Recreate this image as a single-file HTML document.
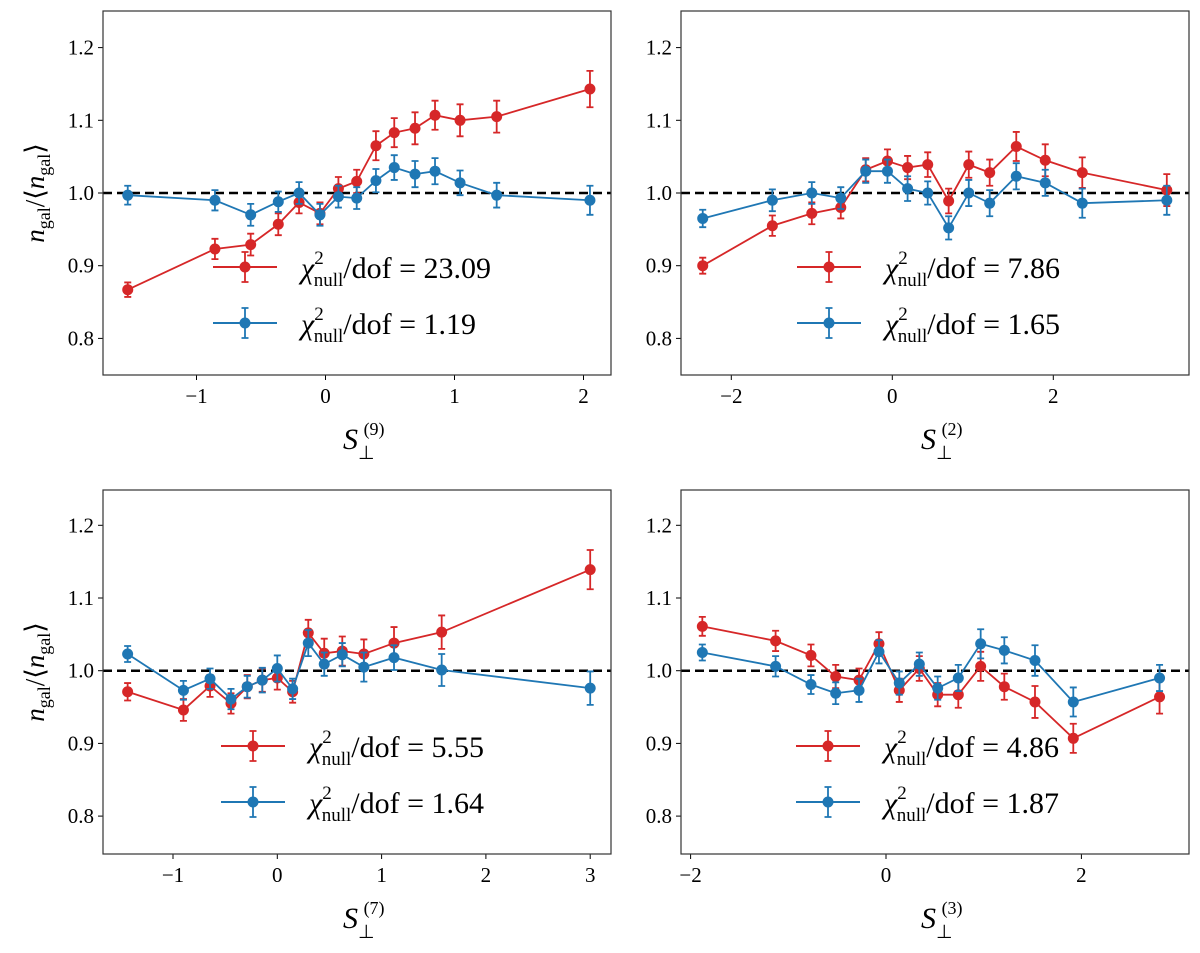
<!DOCTYPE html>
<html><head><meta charset="utf-8"><style>
html,body{margin:0;padding:0;background:#fff;}
svg{display:block;font-family:"Liberation Serif",serif;}
</style></head><body>
<svg id="fig" width="1200" height="953" viewBox="0 0 1200 953" xmlns="http://www.w3.org/2000/svg"></svg>
<script>
// Panel 1 (S9)
const p1X=[-1.533,-0.857,-0.58,-0.366,-0.205,-0.043,0.1,0.242,0.391,0.533,0.694,0.849,1.043,1.327,2.05];
const p1Red=[0.867,0.923,0.929,0.957,0.987,0.972,1.006,1.016,1.065,1.083,1.089,1.107,1.100,1.105,1.143];
const p1RedErr=[0.010,0.014,0.015,0.015,0.015,0.015,0.016,0.016,0.020,0.020,0.022,0.020,0.022,0.022,0.025];
const p1Blue=[0.997,0.990,0.970,0.988,1.000,0.970,0.995,0.993,1.017,1.035,1.026,1.030,1.014,0.997,0.990];
const p1BlueErr=[0.013,0.014,0.015,0.014,0.015,0.015,0.015,0.015,0.016,0.017,0.018,0.018,0.017,0.017,0.020];
const p1XTicks=[-1,0,1,2];
const p1Labels=["23.09","1.19"];
// Panel 2 (S2)
const p2X=[-2.355,-1.49,-1.0,-0.64,-0.33,-0.06,0.19,0.44,0.7,0.95,1.21,1.54,1.9,2.36,3.41];
const p2Red=[0.900,0.955,0.972,0.980,1.032,1.044,1.035,1.039,0.989,1.039,1.028,1.064,1.045,1.028,1.004];
const p2RedErr=[0.011,0.014,0.015,0.015,0.016,0.016,0.016,0.017,0.017,0.018,0.018,0.020,0.022,0.021,0.022];
const p2Blue=[0.965,0.990,1.000,0.993,1.030,1.030,1.006,1.000,0.952,1.000,0.986,1.023,1.014,0.986,0.990];
const p2BlueErr=[0.012,0.015,0.015,0.015,0.016,0.016,0.017,0.016,0.016,0.018,0.018,0.018,0.018,0.020,0.020];
const p2XTicks=[-2,0,2];
const p2Labels=["7.86","1.65"];
// Panel 3 (S7)
const p3X=[-1.435,-0.9,-0.645,-0.444,-0.288,-0.144,0.0,0.147,0.297,0.45,0.623,0.83,1.119,1.576,3.0];
const p3Red=[0.971,0.946,0.979,0.955,0.978,0.987,0.990,0.971,1.052,1.024,1.027,1.023,1.038,1.053,1.139];
const p3RedErr=[0.012,0.015,0.015,0.014,0.016,0.016,0.016,0.015,0.018,0.020,0.020,0.020,0.022,0.023,0.027];
const p3Blue=[1.023,0.973,0.989,0.961,0.978,0.987,1.003,0.975,1.038,1.009,1.022,1.005,1.018,1.001,0.976];
const p3BlueErr=[0.011,0.013,0.014,0.014,0.015,0.017,0.018,0.014,0.018,0.016,0.016,0.020,0.017,0.022,0.023];
const p3XTicks=[-1,0,1,2,3];
const p3Labels=["5.55","1.64"];
// Panel 4 (S3)
const p4X=[-1.88,-1.13,-0.768,-0.515,-0.276,-0.072,0.136,0.341,0.529,0.74,0.969,1.211,1.525,1.917,2.8];
const p4Red=[1.061,1.041,1.021,0.992,0.987,1.037,0.973,1.003,0.967,0.967,1.006,0.978,0.957,0.907,0.964];
const p4RedErr=[0.013,0.014,0.015,0.016,0.016,0.016,0.016,0.017,0.016,0.018,0.020,0.018,0.022,0.020,0.023];
const p4Blue=[1.025,1.006,0.981,0.969,0.973,1.026,0.983,1.009,0.976,0.990,1.037,1.028,1.014,0.957,0.990];
const p4BlueErr=[0.011,0.014,0.013,0.015,0.016,0.016,0.016,0.016,0.016,0.018,0.020,0.018,0.021,0.020,0.018];
const p4XTicks=[-2,0,2];
const p4Labels=["4.86","1.87"];
const yTicks=[0.8,0.9,1.0,1.1,1.2];

const NS="http://www.w3.org/2000/svg";
const svg=document.getElementById('fig');
function mk(tag,attrs,parent){const e=document.createElementNS(NS,tag);for(const k in attrs)e.setAttribute(k,attrs[k]);(parent||svg).appendChild(e);return e;}
const RED="#d62728",BLUE="#1f77b4";

function panel(cfg){
  const g=mk('g',{});
  
  
  const L=cfg.left,R=cfg.right,T=cfg.top,B=cfg.bottom;
  const sx=v=>cfg.x0+v*cfg.unit;
  const y1=T+(cfg.y1pos);
  const sy=v=>y1-(v-1)*727;
  yTicks.forEach(t=>{
    const y=sy(t);
    const tk=mk('line',{x1:L-5,x2:L,y1:y,y2:y,stroke:'#000','stroke-width':1},g);
    
    
    const tx=mk('text',{x:L-9,y:y+7,'text-anchor':'end','font-size':21},g);
    tx.textContent=t.toFixed(1);
    
    
  });
  cfg.xt.forEach(t=>{
    const x=sx(t);
    const tk=mk('line',{x1:x,x2:x,y1:B,y2:B+5,stroke:'#000','stroke-width':1},g);
    
    
    const tx=mk('text',{x:x,y:B+28,'text-anchor':'middle','font-size':21},g);
    tx.textContent=(t<0?'\u2212':'')+Math.abs(t);
    
    
  });
  const ref=mk('line',{x1:L,x2:R,y1:sy(1),y2:sy(1),stroke:'#000','stroke-width':2.5,'stroke-dasharray':'9,5'},g);
  
  
  function series(ys,es,col,nm){
    const sg=mk('g',{},g);
    
    
    const pts=cfg.xs.map((x,i)=>sx(x)+','+sy(ys[i])).join(' ');
    mk('polyline',{points:pts,fill:'none',stroke:col,'stroke-width':1.8},sg);
    cfg.xs.forEach((x,i)=>{
      const px=sx(x),ya=sy(ys[i]+es[i]),yb=sy(ys[i]-es[i]);
      const eb=mk('path',{d:`M${px},${ya}V${yb}M${px-3.5},${ya}H${px+3.5}M${px-3.5},${yb}H${px+3.5}`,stroke:col,'stroke-width':1.8,fill:'none'},sg);
      
      
      const c=mk('circle',{cx:px,cy:sy(ys[i]),r:5.5,fill:col},sg);
      
      
    });
  }
  series(cfg.red,cfg.redErr,RED,'red-series');
  series(cfg.blue,cfg.blueErr,BLUE,'blue-series');
  [[RED,cfg.labels[0],256],[BLUE,cfg.labels[1],312]].forEach(([col,lab,off],k)=>{
    const lg=mk('g',{},g);
    
    
    const lx=L+cfg.legX,ly=T+off;
    mk('line',{x1:lx,x2:lx+64,y1:ly,y2:ly,stroke:col,'stroke-width':2},lg);
    mk('path',{d:`M${lx+32},${ly-15}V${ly+15}M${lx+28.5},${ly-15}H${lx+35.5}M${lx+28.5},${ly+15}H${lx+35.5}`,stroke:col,'stroke-width':1.8,fill:'none'},lg);
    mk('circle',{cx:lx+32,cy:ly,r:5.5,fill:col},lg);
    const t=mk('text',{x:lx+88,y:ly+11,'font-size':30},lg);
    t.innerHTML=`<tspan font-style="italic">χ</tspan><tspan font-size="19" dy="-14">2</tspan><tspan font-size="19" dx="-10" dy="22">null</tspan><tspan dy="-8">/dof = ${lab}</tspan>`;
  });
  const fr=mk('rect',{x:L,y:T,width:R-L,height:B-T,fill:'none',stroke:'#333','stroke-width':1.2},g);
  
  
  const xl=mk('text',{x:(L+R)/2-14,y:B+74,'font-size':30},g);
  xl.innerHTML=`<tspan font-style="italic">S</tspan><tspan font-size="19" dy="10">⊥</tspan><tspan font-size="18" dx="-11" dy="-24">(${cfg.sup})</tspan>`;
  
  
  if(cfg.ylabel){
    const yl=mk('text',{transform:`translate(44,${(T+B)/2}) rotate(-90)`,'text-anchor':'middle','font-size':27},g);
    yl.innerHTML=`<tspan font-style="italic">n</tspan><tspan font-size="18" dy="6">gal</tspan><tspan dy="-6">/⟨</tspan><tspan font-style="italic">n</tspan><tspan font-size="18" dy="6">gal</tspan><tspan dy="-6">⟩</tspan>`;
    
    
  }
}
panel({name:'panel-s9',left:103,right:611,top:11,bottom:375,y1pos:182,x0:325.5,unit:129,xs:p1X,red:p1Red,redErr:p1RedErr,blue:p1Blue,blueErr:p1BlueErr,xt:p1XTicks,labels:p1Labels,legX:110,sup:'9',ylabel:true});
panel({name:'panel-s2',left:681,right:1189,top:11,bottom:375,y1pos:182,x0:892.3,unit:80.5,xs:p2X,red:p2Red,redErr:p2RedErr,blue:p2Blue,blueErr:p2BlueErr,xt:p2XTicks,labels:p2Labels,legX:116,sup:'2',ylabel:false});
panel({name:'panel-s7',left:103,right:611,top:490,bottom:854,y1pos:180.7,x0:277.3,unit:104.3,xs:p3X,red:p3Red,redErr:p3RedErr,blue:p3Blue,blueErr:p3BlueErr,xt:p3XTicks,labels:p3Labels,legX:118,sup:'7',ylabel:true});
panel({name:'panel-s3',left:681,right:1189,top:490,bottom:854,y1pos:180.7,x0:886,unit:97.7,xs:p4X,red:p4Red,redErr:p4RedErr,blue:p4Blue,blueErr:p4BlueErr,xt:p4XTicks,labels:p4Labels,legX:115,sup:'3',ylabel:false});
</script>
</body></html>
